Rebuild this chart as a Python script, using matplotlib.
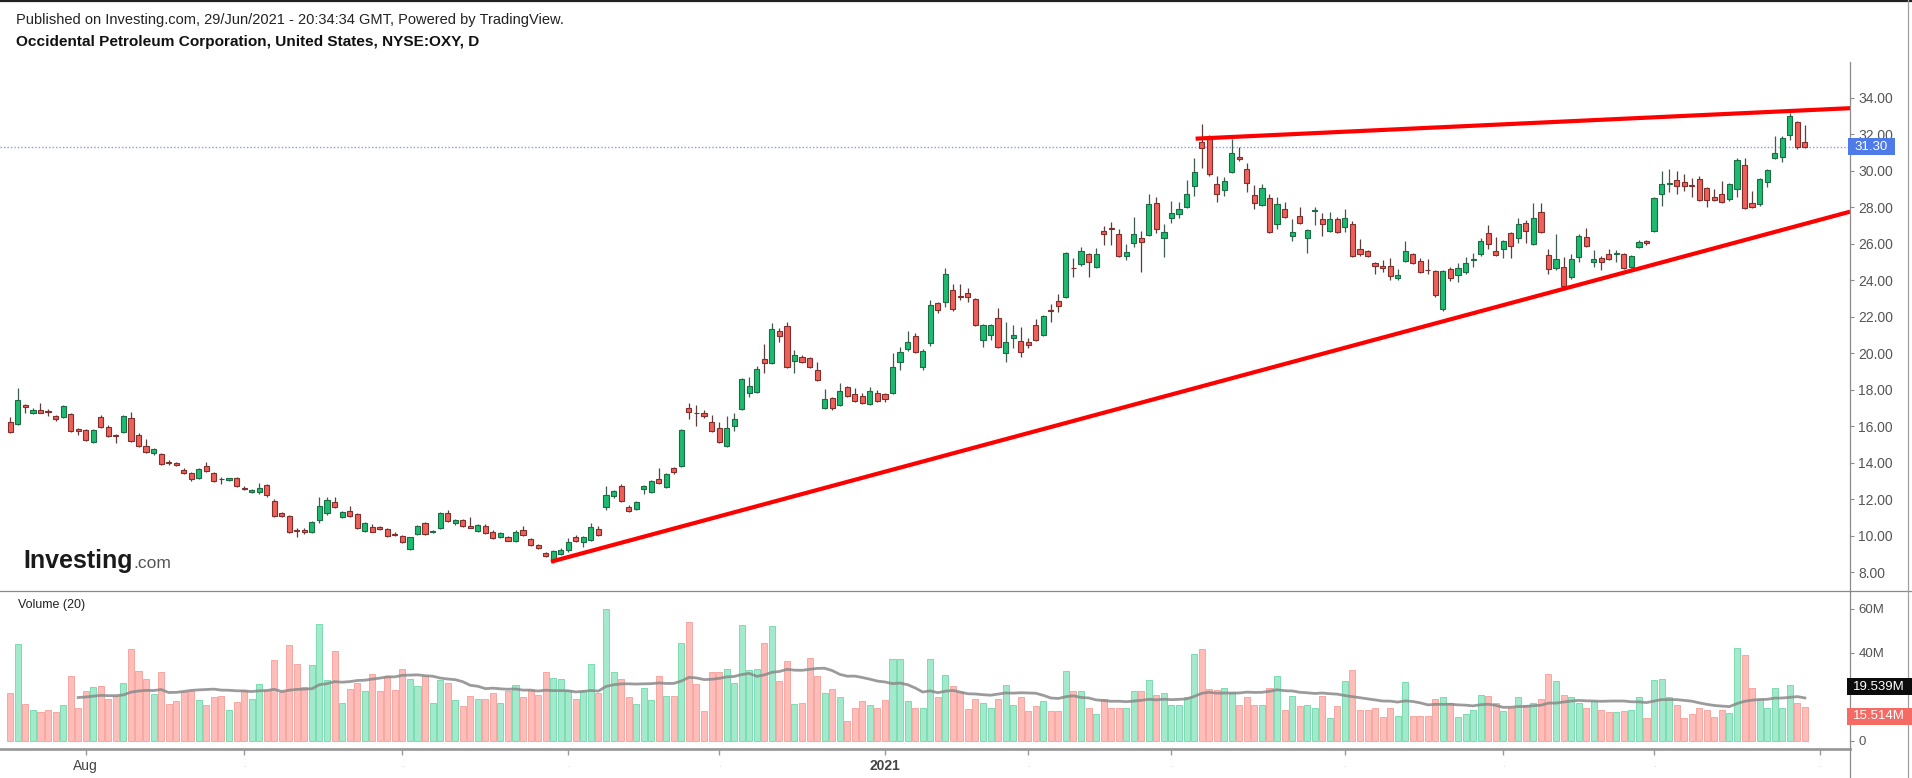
import numpy as np
import matplotlib
matplotlib.use('Agg')
import matplotlib.pyplot as plt
from matplotlib.lines import Line2D
from matplotlib.patches import Rectangle

plt.rcParams['font.family'] = ['Liberation Sans', 'DejaVu Sans']

# daily OHLC, OXY, 20 Jul 2020 .. 29 Jun 2021 (bar index = trading day)
opens = [16.24, 16.12, 17.16, 16.73, 16.88, 16.80, 16.55, 16.52, 16.65, 15.83,
         15.78, 15.13, 16.48, 15.93, 15.50, 15.70, 16.46, 15.51, 14.93, 14.50,
         14.47, 14.00, 13.99, 13.60, 13.41, 13.14, 13.83, 13.41, 13.10, 13.05,
         13.15, 12.62, 12.40, 12.37, 12.75, 11.91, 11.22, 11.09, 10.27, 10.28,
         10.22, 10.85, 11.22, 11.86, 11.04, 11.36, 11.16, 10.27, 10.48, 10.48,
         10.34, 10.06, 9.98, 9.27, 10.09, 10.67, 10.21, 10.40, 11.22, 10.67,
         10.85, 10.54, 10.25, 10.55, 10.22, 9.94, 9.90, 9.70, 10.31, 9.80,
         9.48, 9.06, 8.72, 8.99, 9.21, 9.94, 9.67, 9.76, 10.36, 11.55,
         12.17, 12.72, 11.58, 11.44, 12.53, 12.37, 13.10, 12.68, 13.69, 13.83,
         17.01, 16.72, 16.74, 16.24, 15.90, 14.91, 16.02, 16.94, 17.83, 17.89,
         19.68, 19.44, 21.20, 21.50, 19.57, 19.80, 19.74, 19.07, 17.01, 17.56,
         17.16, 18.16, 17.76, 17.65, 17.21, 17.83, 17.76, 17.83, 19.53, 20.21,
         20.94, 19.26, 20.57, 22.72, 22.78, 23.46, 23.12, 23.27, 22.95, 20.72,
         21.00, 21.90, 20.02, 20.85, 20.68, 20.63, 21.54, 21.00, 22.36, 22.86,
         23.05, 24.67, 24.86, 25.41, 24.70, 26.71, 26.85, 26.52, 25.34, 26.01,
         26.33, 26.47, 28.24, 26.29, 27.38, 27.60, 28.02, 29.16, 31.58, 31.77,
         29.26, 28.94, 29.94, 30.72, 30.09, 28.66, 28.12, 28.48, 27.07, 27.88,
         26.43, 27.53, 26.29, 27.78, 27.33, 26.69, 27.35, 26.89, 27.07, 25.70,
         25.60, 24.92, 24.79, 24.79, 24.13, 25.05, 25.41, 25.06, 24.55, 24.52,
         22.42, 24.59, 24.28, 24.43, 25.12, 25.41, 26.56, 25.61, 25.69, 26.56,
         26.29, 27.15, 25.98, 27.75, 25.38, 24.65, 24.74, 24.15, 25.25, 26.34,
         25.01, 25.23, 25.41, 25.45, 25.41, 24.70, 25.80, 26.16, 26.71, 28.72,
         29.27, 29.48, 29.36, 29.18, 29.54, 29.06, 28.57, 28.70, 28.42, 28.99,
         30.31, 28.20, 28.15, 29.39, 30.71, 30.76, 31.95, 32.64, 31.55]
highs = [16.48, 18.07, 17.22, 16.98, 17.28, 16.92, 16.62, 17.15, 16.72, 15.90,
         15.85, 15.86, 16.60, 16.05, 15.55, 16.62, 16.75, 15.60, 15.28, 14.80,
         14.55, 14.14, 14.06, 13.68, 13.48, 13.70, 14.05, 13.48, 13.22, 13.18,
         13.22, 12.70, 12.56, 12.90, 12.82, 11.98, 11.28, 11.14, 10.40, 10.40,
         10.80, 12.10, 12.10, 12.13, 11.36, 11.63, 11.24, 10.73, 10.62, 10.55,
         10.42, 10.18, 10.05, 9.95, 10.60, 10.75, 10.30, 11.28, 11.40, 10.90,
         10.92, 11.00, 10.64, 10.62, 10.28, 10.20, 9.98, 10.28, 10.50, 9.86,
         9.54, 9.12, 9.23, 9.30, 9.88, 10.02, 9.98, 10.70, 10.50, 12.70,
         12.50, 12.80, 11.66, 11.92, 12.78, 13.06, 13.69, 13.45, 13.75, 15.85,
         17.28, 17.16, 16.88, 16.60, 16.20, 16.55, 16.74, 18.65, 18.70, 19.30,
         20.48, 21.63, 21.40, 21.72, 20.18, 19.90, 19.80, 19.50, 18.05, 17.62,
         18.38, 18.22, 18.07, 17.80, 18.16, 18.00, 17.84, 19.99, 20.31, 21.21,
         21.09, 20.20, 22.90, 22.80, 24.64, 23.79, 23.80, 23.56, 23.00, 21.60,
         21.60, 22.45, 21.72, 21.56, 21.45, 20.80, 21.85, 22.10, 22.67, 23.22,
         25.55, 25.19, 25.83, 25.50, 25.75, 26.96, 27.20, 26.78, 25.98, 27.47,
         26.69, 28.70, 28.57, 27.07, 28.33, 28.30, 29.48, 30.67, 32.55, 31.95,
         29.70, 29.67, 31.71, 31.31, 30.40, 29.21, 29.25, 28.70, 28.57, 28.30,
         27.33, 28.02, 26.80, 27.99, 27.66, 27.75, 27.48, 27.88, 27.24, 26.23,
         25.66, 25.00, 25.10, 25.23, 24.59, 26.16, 25.48, 25.23, 25.14, 24.58,
         24.58, 24.70, 24.92, 25.25, 25.47, 26.33, 27.02, 26.34, 26.22, 26.63,
         27.42, 27.30, 28.21, 28.21, 25.69, 26.53, 25.29, 25.43, 26.50, 26.87,
         25.65, 25.30, 25.68, 25.65, 25.48, 25.38, 26.18, 26.22, 28.58, 29.98,
         30.09, 29.98, 29.80, 29.58, 29.72, 29.12, 28.97, 29.45, 29.31, 30.71,
         30.71, 28.88, 29.60, 30.09, 31.90, 31.90, 33.14, 32.70, 32.50]
lows = [15.62, 16.05, 16.70, 16.66, 16.70, 16.55, 16.30, 16.45, 15.70, 15.50,
        15.18, 15.05, 15.90, 15.40, 15.05, 15.62, 15.15, 14.88, 14.55, 14.42,
        13.85, 13.86, 13.80, 13.36, 12.98, 13.08, 13.50, 12.94, 12.80, 12.98,
        12.66, 12.50, 12.34, 12.30, 12.14, 11.02, 11.00, 10.12, 9.94, 10.10,
        10.15, 10.70, 11.15, 11.50, 10.98, 11.00, 10.34, 10.20, 10.18, 10.30,
        9.92, 9.98, 9.60, 9.20, 10.02, 10.02, 10.12, 10.34, 10.76, 10.60,
        10.45, 10.40, 10.18, 10.06, 9.80, 9.88, 9.68, 9.64, 10.00, 9.42,
        9.24, 8.82, 8.52, 8.95, 9.12, 9.64, 9.40, 9.70, 10.00, 11.40,
        12.05, 11.86, 11.29, 11.38, 12.30, 12.33, 12.82, 12.62, 13.40, 13.78,
        16.37, 16.02, 16.42, 15.70, 15.05, 14.85, 15.75, 16.88, 17.60, 17.84,
        18.90, 19.38, 20.60, 19.18, 18.90, 19.44, 19.16, 18.46, 16.94, 16.90,
        17.10, 17.60, 17.32, 17.20, 17.14, 17.30, 17.30, 17.76, 19.07, 20.10,
        20.00, 19.07, 20.40, 22.20, 22.50, 22.30, 22.90, 22.82, 21.48, 20.35,
        20.72, 20.30, 19.53, 20.27, 19.80, 20.30, 20.66, 20.94, 21.72, 22.27,
        23.00, 24.15, 24.80, 24.19, 24.64, 25.92, 25.92, 25.28, 25.10, 25.83,
        24.46, 26.40, 26.56, 25.25, 27.11, 27.38, 27.96, 28.61, 30.12, 29.70,
        28.30, 28.61, 29.88, 30.55, 28.85, 27.88, 28.05, 26.60, 26.78, 27.42,
        26.16, 27.05, 25.47, 27.02, 26.42, 26.62, 26.60, 26.65, 25.28, 25.32,
        25.26, 24.33, 24.43, 24.00, 24.00, 24.98, 24.86, 24.38, 24.33, 23.10,
        22.30, 23.97, 23.88, 24.36, 24.70, 25.34, 25.70, 25.32, 25.19, 25.19,
        26.02, 26.05, 25.92, 26.60, 24.34, 24.58, 23.50, 24.08, 25.01, 25.82,
        24.70, 24.55, 25.08, 25.00, 24.60, 24.64, 25.74, 25.95, 26.65, 28.08,
        28.85, 28.70, 28.90, 28.53, 28.33, 28.02, 28.33, 28.24, 28.36, 28.53,
        27.91, 27.93, 28.08, 29.12, 30.65, 30.49, 31.68, 31.17, 31.25]
closes = [15.70, 17.43, 17.03, 16.88, 16.73, 16.76, 16.37, 17.10, 15.75, 15.75,
          15.24, 15.78, 15.97, 15.47, 15.46, 16.55, 15.20, 14.93, 14.60, 14.73,
          13.90, 13.98, 13.85, 13.41, 13.08, 13.63, 13.56, 12.99, 13.08, 13.15,
          12.72, 12.58, 12.50, 12.59, 12.22, 11.07, 11.07, 10.18, 10.26, 10.20,
          10.73, 11.62, 11.95, 11.58, 11.28, 11.07, 10.40, 10.67, 10.22, 10.36,
          9.98, 10.05, 9.67, 9.90, 10.54, 10.09, 10.27, 11.22, 10.82, 10.85,
          10.53, 10.43, 10.58, 10.13, 9.85, 10.16, 9.72, 10.22, 10.03, 9.48,
          9.30, 8.88, 9.17, 9.21, 9.67, 9.70, 9.90, 10.49, 10.03, 12.22,
          12.44, 11.91, 11.35, 11.86, 12.72, 13.01, 12.86, 13.37, 13.47, 15.79,
          16.79, 16.70, 16.57, 15.75, 15.11, 15.90, 16.37, 18.60, 18.20, 19.13,
          19.44, 21.32, 20.94, 19.22, 19.90, 19.50, 19.22, 18.52, 17.48, 17.00,
          17.92, 17.67, 17.39, 17.28, 17.92, 17.37, 17.48, 19.22, 20.04, 20.59,
          20.08, 20.13, 22.64, 22.36, 24.32, 22.42, 23.10, 23.06, 21.54, 21.54,
          21.54, 20.35, 20.59, 21.00, 20.08, 20.44, 20.72, 22.03, 22.30, 22.58,
          25.50, 24.65, 25.61, 24.97, 25.41, 26.51, 26.80, 25.34, 25.52, 26.50,
          26.07, 28.15, 26.78, 26.65, 27.66, 27.88, 28.70, 29.94, 31.22, 29.81,
          28.70, 29.43, 30.98, 30.62, 29.34, 28.24, 29.03, 26.65, 28.17, 27.48,
          26.65, 27.11, 26.74, 27.82, 27.06, 27.35, 26.65, 27.39, 25.32, 25.41,
          25.32, 24.79, 24.65, 24.23, 24.28, 25.61, 24.92, 24.43, 24.53, 23.18,
          24.52, 24.10, 24.65, 24.92, 25.14, 26.16, 25.96, 25.38, 26.16, 25.89,
          27.07, 26.71, 27.39, 26.65, 24.61, 25.14, 23.70, 25.14, 26.42, 25.89,
          25.14, 24.97, 25.14, 25.49, 24.65, 25.32, 26.11, 26.01, 28.52, 29.27,
          29.34, 29.17, 29.17, 29.16, 28.39, 28.39, 28.39, 28.30, 29.25, 30.58,
          27.97, 28.02, 29.54, 30.03, 30.98, 31.80, 32.99, 31.27, 31.30]
# volume in millions
volume = [21.6, 44.2, 16.8, 14.0, 13.0, 14.0, 13.0, 16.3, 29.4, 15.2,
          22.6, 24.6, 24.9, 18.9, 20.4, 26.4, 42.0, 31.7, 28.2, 21.3,
          31.2, 16.8, 18.1, 22.3, 22.8, 18.6, 16.3, 19.8, 20.4, 14.0,
          17.8, 23.1, 19.2, 25.8, 23.1, 37.0, 22.3, 43.8, 35.2, 24.6,
          34.4, 53.3, 27.6, 40.8, 17.4, 23.8, 26.4, 22.6, 30.6, 22.8,
          29.4, 23.1, 32.9, 28.4, 24.9, 29.4, 17.4, 27.6, 26.4, 18.6,
          15.8, 20.4, 18.9, 19.3, 21.9, 17.4, 22.6, 25.4, 19.8, 23.1,
          20.8, 31.2, 28.8, 28.4, 23.1, 19.3, 22.6, 35.2, 21.6, 60.1,
          31.2, 28.4, 19.8, 16.8, 24.3, 18.6, 29.4, 20.4, 20.4, 44.7,
          54.3, 26.1, 13.6, 31.2, 31.2, 32.8, 26.4, 52.8, 32.2, 32.8,
          44.7, 52.1, 27.2, 36.2, 16.8, 17.4, 37.7, 29.4, 21.6, 23.7,
          20.1, 9.1, 14.8, 18.1, 16.3, 15.2, 18.6, 37.4, 37.4, 18.1,
          15.2, 15.1, 37.4, 19.8, 29.9, 24.9, 22.3, 14.5, 19.3, 17.4,
          15.2, 19.3, 25.4, 16.3, 19.8, 13.6, 15.8, 18.1, 13.6, 13.6,
          31.7, 22.8, 22.6, 15.2, 12.2, 19.3, 15.2, 15.2, 15.2, 22.6,
          22.6, 27.9, 20.8, 21.6, 16.3, 16.3, 20.1, 39.7, 42.0, 23.8,
          23.1, 24.3, 22.3, 16.3, 19.8, 16.3, 16.3, 24.3, 29.4, 14.0,
          20.4, 15.8, 16.3, 15.2, 20.4, 10.3, 15.8, 27.2, 32.2, 14.0,
          14.0, 14.8, 10.7, 15.2, 11.3, 26.9, 11.3, 11.3, 11.3, 18.9,
          19.8, 17.4, 10.7, 12.2, 14.0, 20.8, 20.4, 17.1, 13.7, 15.2,
          19.8, 16.3, 17.4, 19.3, 30.6, 27.3, 21.1, 19.8, 17.1, 15.2,
          18.3, 14.3, 13.0, 13.0, 13.6, 14.0, 19.8, 10.3, 27.6, 28.4,
          19.8, 16.3, 10.3, 12.2, 15.2, 14.0, 10.7, 14.0, 12.8, 42.4,
          39.2, 24.3, 18.9, 15.2, 24.3, 15.2, 25.4, 17.4, 15.514]

month_ticks = [10, 31, 52, 74, 94, 116, 135, 154, 177, 198, 218, 240]
month_labels = ['Aug', '', '', '', '', '2021', '', '', '', '', '', '']
price_ticks = [8, 10, 12, 14, 16, 18, 20, 22, 24, 26, 28, 30, 32, 34]
vol_ticks = [0, 40, 60]
vol_tick_labels = ['0', '40M', '60M']

# wedge lines drawn on the chart (bar index, price)
lower_line = ([71.7, 244.0], [8.57, 27.75])
upper_line = ([157.2, 244.0], [31.75, 33.42])

last_price = 31.30
vol_ma_label = '19.539M'
vol_last_label = '15.514M'

W, H = 1912, 778
GREEN, GREEN_EDGE = '#1cbb70', '#1d6a45'
RED, RED_EDGE = '#f0605a', '#7f302c'
VGREEN, VGREEN_EDGE = '#a2eacb', '#6fd8aa'
VRED, VRED_EDGE = '#ffbdb9', '#f59e99'
AXIS_GREY = '#8c8c8c'

o = np.array(opens)
h = np.array(highs)
l = np.array(lows)
c = np.array(closes)
v = np.array(volume)
x = np.arange(len(o))
up = c >= o

fig = plt.figure(figsize=(W / 100, H / 100), dpi=100)
fig.patch.set_facecolor('white')

def fx(px):
    return px / W

def fy(py):
    return 1 - py / H

ax = fig.add_axes([0, fy(591), fx(1850), (591 - 62) / H])
axv = fig.add_axes([0, fy(749), fx(1850), (749 - 591) / H], sharex=ax)

# candles
wick_col = np.where(up, '#3f5e4f', '#5e3d3b')
ax.vlines(x, l, h, colors=wick_col, lw=0.9, zorder=2)
body_lo = np.minimum(o, c)
body_h = np.maximum(np.abs(c - o), 0.04)
ax.bar(x, body_h, bottom=body_lo, width=0.68,
       color=np.where(up, GREEN, RED), edgecolor=np.where(up, GREEN_EDGE, RED_EDGE),
       linewidth=0.8, zorder=3)

ax.plot(*lower_line, color='#ff0000', lw=3.0, solid_capstyle='butt', zorder=4)
ax.plot(*upper_line, color='#ff0000', lw=3.0, solid_capstyle='butt', zorder=4)
ax.axhline(last_price, color='#7f9df2', lw=1.0, ls=(0, (1, 1.5)), zorder=1)

ax.set_xlim(-1.37, 243.99)
ax.set_ylim(6.964, 35.951)
ax.set_yticks(price_ticks)
ax.set_yticklabels([f'{t:.2f}' for t in price_ticks])
ax.yaxis.tick_right()
ax.tick_params(axis='y', direction='out', length=3, width=0.8, color=AXIS_GREY,
               labelsize=10, labelcolor='#555555', pad=3)
ax.tick_params(axis='x', bottom=False, labelbottom=False)
for s in ax.spines.values():
    s.set_visible(False)

# volume
axv.bar(x, v, width=0.8, color=np.where(up, VGREEN, VRED),
        edgecolor=np.where(up, VGREEN_EDGE, VRED_EDGE), linewidth=0.6, zorder=2)
cnt = np.minimum(np.arange(1, len(v) + 1), 20)
ma = np.convolve(v, np.ones(20), mode='full')[:len(v)] / cnt
axv.plot(x[9:], ma[9:], color='#8a8a8a', lw=2.0, alpha=0.85, zorder=3)
axv.set_ylim(-3.64, 68.18)
axv.set_yticks(vol_ticks)
axv.set_yticklabels(vol_tick_labels)
axv.yaxis.tick_right()
axv.tick_params(axis='y', direction='out', length=3, width=0.8, color=AXIS_GREY,
                labelsize=9.5, labelcolor='#555555', pad=3)
axv.set_xticks(month_ticks)
axv.set_xticklabels([lab if lab else '.' for lab in month_labels])
axv.tick_params(axis='x', direction='out', length=4, width=1, color='#999999',
                labelsize=10, labelcolor='#444444', pad=3)
for lab, t in zip(month_labels, axv.get_xticklabels()):
    if not lab:
        t.set_color('#c8c8c8')
        t.set_fontsize(7)
    elif lab == '2021':
        t.set_fontweight('bold')
for name, s in axv.spines.items():
    s.set_visible(name == 'bottom')
axv.spines['bottom'].set_color('#9a9a9a')
axv.spines['bottom'].set_linewidth(2)
axv.text(0.0095, 0.91, 'Volume (20)', transform=axv.transAxes, fontsize=9,
         color='#222222', va='center')

# frame lines
fig.add_artist(Line2D([0, 1], [fy(0.8), fy(0.8)], color='#222222', lw=1.6))
fig.add_artist(Line2D([0, 1], [fy(591), fy(591)], color='#8a8a8a', lw=0.9))
fig.add_artist(Line2D([fx(1850), fx(1850)], [fy(62), 0], color=AXIS_GREY, lw=0.9))
fig.add_artist(Line2D([fx(1908), fx(1908)], [fy(0), 0], color='#a0a0a0', lw=0.9))

# value tags on the right scale
py_last = H - ax.transData.transform((0, last_price))[1]
def tag(py, txt, fc, x0, x1, hgt=17):
    fig.add_artist(Rectangle((fx(x0), fy(py + hgt / 2)), fx(x1 - x0), hgt / H,
                             transform=fig.transFigure, facecolor=fc, edgecolor='none',
                             zorder=10))
    fig.text(fx(x0 + 6), fy(py), txt, color='white', fontsize=9.5, va='center',
             ha='left', zorder=11)

tag(py_last, f'{last_price:.2f}', '#4f7be8', 1848, 1895)
tag(686.7, vol_ma_label, '#0c0c0c', 1847, 1912)
tag(716.0, vol_last_label, '#f56b63', 1847, 1912)

# header
fig.text(fx(16), fy(20), 'Published on Investing.com, 29/Jun/2021 - 20:34:34 GMT, '
         'Powered by TradingView.', fontsize=10.5, color='#222222', va='center')
fig.text(fx(16), fy(42), 'Occidental Petroleum Corporation, United States, NYSE:OXY, D',
         fontsize=11.1, color='#111111', fontweight='bold', va='center')

# logo
fig.text(fx(23), fy(568), 'Investing', fontsize=18, fontweight='bold', color='#1a1a1a',
         va='baseline')
fig.text(fx(133), fy(568), '.com', fontsize=12.5, color='#555555', va='baseline')

fig.savefig('out.png', dpi=100)
